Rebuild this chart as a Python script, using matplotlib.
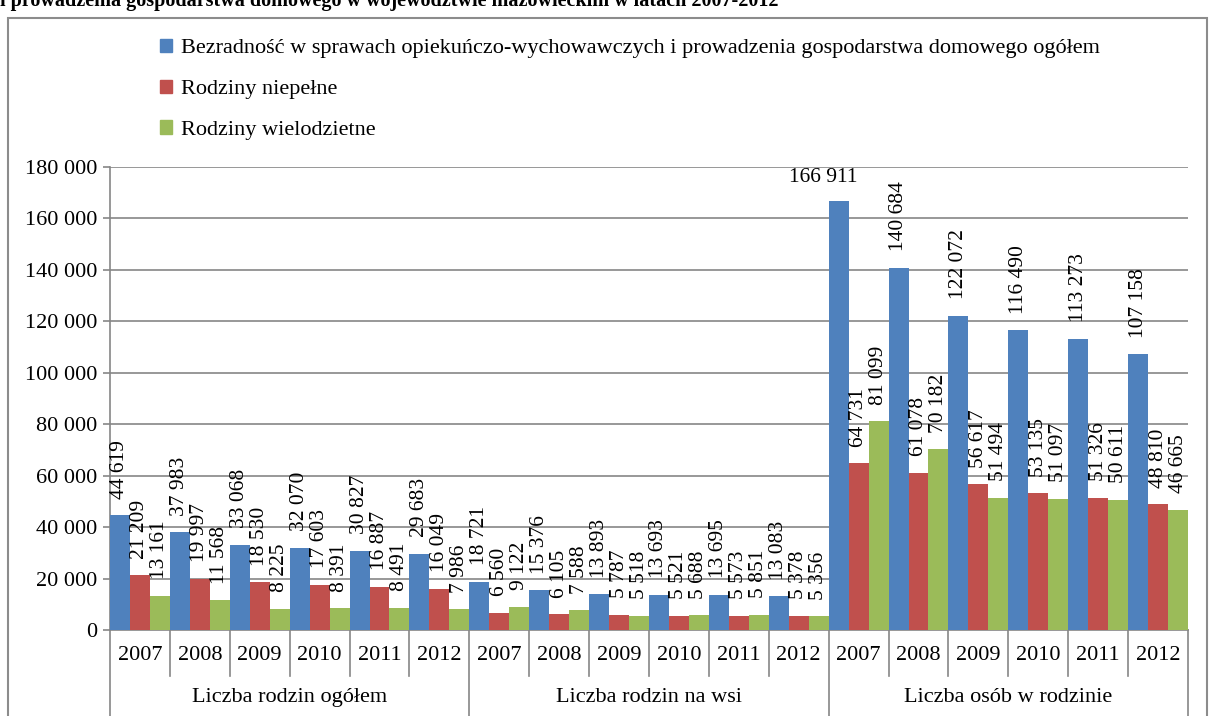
import matplotlib.pyplot as plt
import matplotlib.patches as mpatches
from matplotlib.ticker import FuncFormatter, MultipleLocator

plt.rcParams['font.family'] = ['Liberation Serif', 'DejaVu Serif']

groups = ["Liczba rodzin ogółem", "Liczba rodzin na wsi", "Liczba osób w rodzinie"]
years = ["2007", "2008", "2009", "2010", "2011", "2012"]
series_names = [
    "Bezradność w sprawach opiekuńczo-wychowawczych i prowadzenia gospodarstwa domowego ogółem",
    "Rodziny niepełne",
    "Rodziny wielodzietne",
]
bezradnosc = [44619, 37983, 33068, 32070, 30827, 29683,
              18721, 15376, 13893, 13693, 13695, 13083,
              166911, 140684, 122072, 116490, 113273, 107158]
niepelne = [21209, 19997, 18530, 17603, 16887, 16049,
            6560, 6105, 5787, 5521, 5573, 5378,
            64731, 61078, 56617, 53135, 51326, 48810]
wielodzietne = [13161, 11568, 8225, 8391, 8491, 7986,
                9122, 7588, 5518, 5688, 5851, 5356,
                81099, 70182, 51494, 51097, 50611, 46665]
colors = ["#4F81BD", "#C0504D", "#9BBB59"]
title = "i prowadzenia gospodarstwa domowego w województwie mazowieckim w latach 2007-2012"
fs = 15.5


def fmt(v):
    return f"{int(v):,}".replace(",", " ")


fig = plt.figure(figsize=(12.15, 7.16), dpi=100)
ax = fig.add_axes([110 / 1215, 1 - 630 / 716, (1188 - 110) / 1215, (630 - 167) / 716])

n = len(bezradnosc)
x = list(range(n))
w = 1 / 3
for k, vals in enumerate([bezradnosc, niepelne, wielodzietne]):
    xs = [i + (k - 1) * w for i in x]
    ax.bar(xs, vals, width=w, color=colors[k], label=series_names[k], zorder=3)
    for xi, v in zip(xs, vals):
        if v > 150000:
            ax.annotate(fmt(v), (xi, v), xytext=(-11, 10), textcoords="offset points",
                        ha="center", va="bottom", fontsize=fs)
        else:
            ax.annotate(fmt(v), (xi, v), xytext=(0, 12), textcoords="offset points",
                        ha="center", va="bottom", rotation=90, fontsize=fs)

ax.set_xlim(-0.5, n - 0.5)
ax.set_ylim(0, 180000)
ax.yaxis.set_major_locator(MultipleLocator(20000))
ax.yaxis.set_major_formatter(FuncFormatter(lambda v, p: fmt(v)))
ax.grid(axis="y", color="#868686", linewidth=1.2, zorder=0)
ax.tick_params(axis="y", labelsize=fs + 0.5, color="#868686", length=5, width=1.2, pad=4)
ax.set_xticks([])
for s in ["top", "right"]:
    ax.spines[s].set_visible(False)
for s in ["left", "bottom"]:
    ax.spines[s].set_color("#868686")
    ax.spines[s].set_linewidth(1.2)

# two-level category axis
tr = ax.get_xaxis_transform()
for i in range(n + 1):
    if i % 6 == 0:
        y_end = -0.2
    else:
        y_end = -0.1
    ax.plot([i - 0.5, i - 0.5], [0, y_end], transform=tr, color="#868686",
            linewidth=1.2, clip_on=False)
for i in range(n):
    ax.text(i, -0.054, years[i % 6], transform=tr, ha="center", va="center", fontsize=fs + 0.5)
for g, name in enumerate(groups):
    ax.text(g * 6 + 2.5, -0.145, name, transform=tr, ha="center", va="center", fontsize=fs + 0.5)

handles = [mpatches.Patch(color=c) for c in colors]
fig.legend(handles, series_names, loc="upper left", bbox_to_anchor=(151 / 1215, 1 - 30 / 716),
           frameon=False, fontsize=fs + 0.5, handlelength=0.55, handleheight=0.55,
           handletextpad=0.4, labelspacing=0.95, borderaxespad=0)

fig.patches.append(mpatches.Rectangle((8 / 1215, -0.02), 1199 / 1215, 1.02 - 18 / 716,
                                      transform=fig.transFigure, fill=False,
                                      edgecolor="#8c8c8c", linewidth=1.5))
fig.text(0.0, 1 - 6 / 716, title, ha="left", va="baseline", fontsize=14.5, fontweight="bold")

fig.savefig("out.png", dpi=100)
